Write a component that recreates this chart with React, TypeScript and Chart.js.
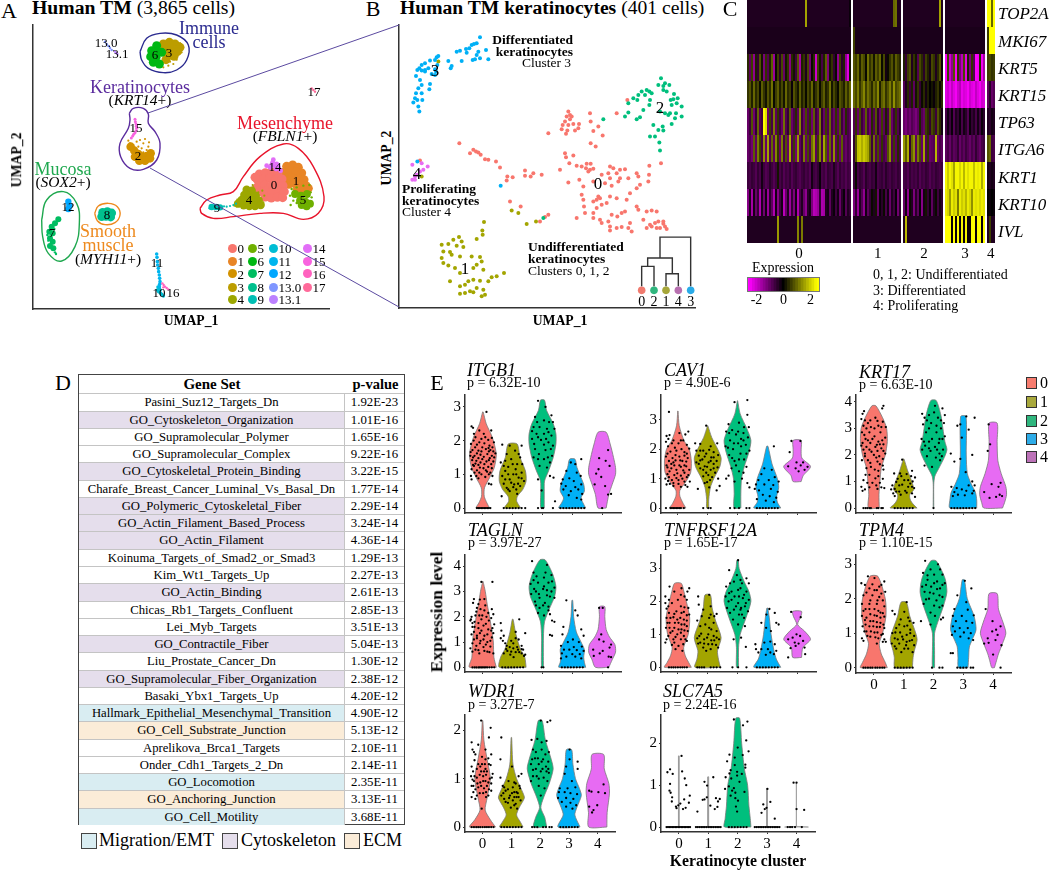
import React, { useEffect, useRef } from "react";
import { Chart, registerables } from "chart.js";

Chart.register(...registerables);

const SERIF = "'Liberation Serif', serif";
const AXIS = "#333333";

/* ---------- panel A: UMAP values (arbitrary UMAP units), flat x,y lists ---------- */
const A_C0 = [778,405,796,409,815,411,834,408,772,388,790,390,809,392,828,389,846,390,775,370,794,372,812,369,831,371,849,370,780,352,799,354,817,351,836,353,853,352,796,336,814,333,832,335,848,334,765,395,768,362];
const A_C1 = [860,428,878,432,895,425,852,410,870,413,888,411,905,408,858,392,876,394,894,392,912,388,866,374,884,376,902,372,918,370,892,358,910,356,925,362];
const A_C2 = [392,487,403,475,415,465,405,457,425,457,440,459,452,467,418,445,435,445,450,452];
const A_C2F = [420,507,430,497,445,487,410,502,425,482,440,477,415,487,400,492,390,497,385,505,435,510,405,480,430,470,447,500];
const A_C3 = [490,795,508,800,525,795,540,785,497,778,515,780,532,772,505,760,522,758,498,748];
const A_C3F = [510,742,520,735,490,725,505,730,530,748,545,770,540,798,488,735];
const A_C4 = [740,358,755,355,733,342,750,340,767,340,725,327,742,325,759,324,776,326,714,316,731,311,748,309,765,309,782,312];
const A_C4F = [708,318,712,328,760,365,775,350,758,372,790,320,793,340,787,355,703,310];
const A_C5 = [885,345,903,340,921,345,900,325,916,322,930,316,905,312,920,308];
const A_C5F = [875,360,890,365,910,370,928,372,870,340,880,325,890,318,872,312,935,335,880,352,896,332,932,350];
const A_C6 = [470,790,455,775,470,772,485,770,452,757,468,755,460,740,478,735];
const A_C7 = [175,269,165,257,155,247,148,232,158,227,150,212,158,202,150,189,160,182];
const A_C7F = [178,272,150,238,142,222,145,205,165,170,168,165,152,195,163,240];
const A_C8 = [308,290,322,292,335,288,305,277,318,278,332,276];
const A_C9 = [635,306,648,306,660,305];
const A_C9F = [672,308,680,307,690,309,628,302,665,300,700,312,708,316];
const A_C10 = [472,57,476,52,482,47,486,43,490,39,478,62,474,66,480,56];
const A_C11 = [470,165,471,155,472,142,473,132,475,122,476,112,478,102,479,92,480,82,479,74,478,67];
const A_C12 = [205,322,208,310,205,300];
const A_C130 = [315,802,320,795,325,789,330,783,335,777];
const A_C131 = [345,772,349,768,352,765];
const A_C14 = [818,440,825,428,810,425,835,425,820,448,815,432,830,435,800,430,842,415,828,420];
const A_C15 = [405,569,406,562,408,555,409,548,410,542,408,535,405,529,401,524,398,519,394,513];
const A_C16 = [487,77,491,72,495,67,500,63,505,59,490,65];
const A_C17 = [935,662,940,657,945,652];

/* annotation outlines in panel A (same UMAP units) */
const A_RING_IMMUNE = [420,772,440,812,480,827,530,822,565,792,560,747,530,717,490,709,445,722,425,747,420,772];
const A_RING_KERAT = [388,587,400,602,430,602,445,585,445,557,465,532,480,497,470,447,430,419,390,422,362,457,360,497,385,542,390,567,388,587];
const A_RING_MESEN = [600,302,620,327,660,342,700,352,730,397,780,457,850,495,895,482,940,427,972,337,955,287,910,269,850,287,780,287,700,277,640,272,605,287,600,302];
const A_RING_MUCOSA = [125,267,140,327,190,352,230,317,238,257,225,187,185,144,145,167,128,217,125,267];
const A_RING_SMOOTH = [284,287,295,309,325,317,352,307,360,282,345,259,315,253,292,265,284,287];

const A_CLUSTER_COLORS = ["#F8766D","#E88526","#D39200","#BC9D00","#9CA700","#6FB000","#00B813","#00BD61","#00C08E","#00BFB4","#00BDD4","#00B5EE","#00A7FF","#7F96FF","#BC81FF","#E26EF7","#F863DF","#FF62BF","#FF6A9A"];
const A_LEGEND_LABELS = ["0","1","2","3","4","5","6","7","8","9","10","11","12","13.0","13.1","14","15","16","17"];

/* ---------- panel B: UMAP values, flat x,y lists ---------- */
const B_C0 = [565,590,570,580,575,575,560,575,570,567,555,560,548,550,545,537,565,550,580,553,597,553,595,540,585,533,562,533,558,523,505,525,630,585,632,560,655,545,640,532,668,518,632,495,647,485,710,585,742,625,238,495,280,475,288,470,270,465,295,467,302,460,315,447,325,445,348,440,360,422,382,395,398,393,380,383,435,413,435,397,460,405,452,395,485,400,540,415,390,320,422,305,505,280,495,273,480,260,555,465,580,458,558,453,568,435,590,427,605,425,620,433,632,433,618,420,630,415,640,418,625,410,598,385,565,377,690,425,700,420,720,415,735,417,710,405,685,405,690,390,665,400,640,380,720,390,745,390,770,405,775,395,808,427,843,435,807,400,805,380,780,370,770,360,750,345,740,325,715,380,695,367,675,375,610,365,605,340,655,335,650,325,640,320,660,330,610,325,690,335,710,330,680,315,665,310,612,305,615,285,650,300,640,285,590,270,640,270,660,265,665,255,685,260,690,245,690,233,710,240,725,243,750,255,745,240,755,230,735,290,725,285,712,275,695,280,770,305,775,295,800,290,815,293,830,290,790,265,800,240,810,250,825,255,835,260,850,260,815,245,830,240,840,240,855,245,860,237,850,253,120,443];
const B_C1 = [312,258,307,233,308,220,290,207,237,213,220,205,245,200,185,190,205,192,230,187,250,183,190,170,210,168,215,160,240,155,275,155,300,153,305,140,185,150,190,135,205,128,225,120,240,105,290,130,280,120,310,115,335,92,350,95,372,105,210,80,240,65,255,70,265,80,280,85,300,82,325,80,290,60,270,50,255,45,240,43,280,47,310,55,315,40,305,35,395,293,415,285,440,252,468,260,175,740,125,395];
const B_C2 = [843,690,855,675,868,670,850,667,835,670,850,655,860,650,800,655,785,650,775,640,795,640,808,650,815,645,760,630,772,625,745,615,810,625,808,610,882,643,893,630,880,627,872,625,890,615,875,610,905,605,870,585,888,585,905,575,885,570,865,580,855,585,840,590,790,595,745,587,735,575,780,573,770,567,820,550,848,545,835,535,850,533,875,553,810,515,825,515,838,497,840,473,670,567,490,270];
const B_C3 = [300,813,290,795,282,793,275,790,268,780,258,778,240,773,230,770,295,770,318,775,290,760,300,750,285,747,278,745,325,747,260,767,245,742,205,742,215,727,212,720,175,757,170,753,165,745,150,743,135,735,125,730,118,720,112,715,125,713,135,715,145,720,165,717,172,730,168,710,155,703,135,710,108,697,120,685,125,670,115,660,108,645,125,645,148,657,150,673,105,630,112,625,100,617,127,625,115,605,118,590,165,700,112,440,362,367];
const B_C4 = [97,430,125,435,143,425,130,415,120,410,110,400,105,395,97,385,105,385];
const B_COLORS = ["#F8766D","#A3A500","#00BF7D","#00B0F6","#E76BF3"];

const DENDRO_LEFT = [785,65,785,125,822,125,822,65];
const DENDRO_MID = [858,65,858,103,895,103,895,65];
const DENDRO_JOIN = [803,125,803,150,877,150,877,103];
const DENDRO_ROOT = [840,150,840,213,932,213,932,65];
const DENDRO_LEAVES = [785,53,822,53,858,53,895,53,932,53];
const DENDRO_LEAF_LABELS = ["0","2","1","4","3"];
const DENDRO_LEAF_COLORS = ["#F07A6E","#2FB67E","#A7A73A","#B870B0","#2AABE8"];

/* ---------- panel C: scaled expression, one list per cluster ---------- */
const GENES = ["TOP2A","MKI67","KRT5","KRT15","TP63","ITGA6","KRT1","KRT10","IVL"];
const CLUSTER_NAMES = ["0","1","2","3","4"];
const TOP2A = [
 [-.3,-.3,-.3,-.3,-.3,-.3,-.3,-.3,-.3,-.3,-.3,-.3,-.3,-.3,-.3,-.3,-.3,-.3,-.3,-.3,-.3,-.3,-.3,-.3,-.3,-.3,-.3,-.3,-.3,1.6,-.3,-.3,-.3,-.3,-.3,-.3,-.3,-.3,-.3,-.3,-.3,-.3,-.3,-.3,-.3,-.3,-.3,-.3,-.3,-.3,-.3,-.1],
 [-.3,-.3,-.3,-.3,-.3,-.3,-.3,-.3,-.3,-.3,-.3,-.3,-.3,-.3,-.3,-.3,-.3,-.3,-.3,-.3,1,1.1,-.3,-.3],
 [-.3,-.3,-.3,-.3,-.3,-.3,-.3,-.3,-.3,-.3,-.3,-.3,-.3,-.3,-.3,-.3,-.3,-.3,1.6,-.3],
 [-.3,-.3,-.3,-.3,-.3,-.3,-.3,-.3,-.3,-.3,-.3,-.3,-.3,-.3,-.3,-.3,-.3,-.3,-.3,-.3],
 [2.5,2.5,1,2.5]];
const MKI67 = [
 [-.25,-.25,-.25,-.25,-.25,-.25,-.25,-.25,-.25,-.25,-.25,-.25,-.25,-.25,-.25,-.25,-.25,-.25,-.25,-.25,-.25,-.25,-.25,-.25,-.25,-.25,-.25,-.25,-.25,-.25,-.25,-.25,-.25,-.25,-.25,-.25,-.25,-.25,-.25,-.25,-.25,-.25,-.25,-.25,-.25,-.25,-.25,-.25,-.25,-.25,-.25,-.25],
 [.6,-.25,-.25,-.25,-.25,-.25,-.25,-.25,-.25,-.25,-.25,-.25,-.25,-.25,-.25,-.25,-.25,-.25,-.25,-.25,-.25,-.25,-.25,-.25],
 [-.25,-.25,-.25,-.25,-.25,-.25,-.25,-.25,-.25,-.25,-.25,-.25,-.25,-.25,-.25,-.25,-.25,-.25,-.25,-.25],
 [-.25,-.25,-.25,-.25,-.25,-.25,-.25,-.25,-.25,-.25,-.25,-.25,-.25,-.25,-.25,-.25,-.25,-.25,-.25,-.25],
 [.6,2.5,2.5,2.5]];
const KRT5 = [
 [.4,-.9,.6,-1.4,.3,-.5,.8,.2,-1.2,.5,-.8,.3,.9,-1.5,.1,.6,-.4,.7,-1,.2,.5,-1.3,.4,.2,-.6,.8,-1.6,.3,.5,-.3,.7,-1.1,.1,.4,-2,.6,.2,-.7,.3,.9,-1.2,.2,.5,-.5,.1,-1.4,.6,-.4,.3,-1.4,-2.2,.2],
 [.8,.6,1,.3,.9,.7,.1,1.1,.5,.8,.2,.9,.6,1,.1,.7,-.2,.1,.5,.8,.3,.9,.6,.4],
 [.3,-.5,.6,.8,-.3,.5,.2,-.8,.7,.4,-.4,.6,.3,-.2,.7,.5,-.3,.4,.8,-.1],
 [-2.4,.6,-2,-1.4,.8,-2.4,.5,-1.2,-1.8,.7,-2.2,.3,-1.2,.5,-.8,-2.5,-2.4,.4,-2.4,-1.6],
 [.6,.7,.5,.6]];
const KRT15 = [
 [.5,.8,.3,1,.4,.7,.1,.9,.5,.2,.8,.4,1.1,.1,.6,.9,.3,.7,.2,1,.4,.6,-.1,.8,.5,.2,.9,.3,.6,.1,.7,.4,1,.2,.5,.8,.1,.6,.9,.3,.5,1.1,.2,.7,.4,.1,.8,.6,.3,.9,.5,1],
 [1,.7,1.2,.5,.9,1.3,.6,1.1,.8,.4,1,.7,1.3,.3,.9,1.1,.5,.8,1.2,.6,1.4,.7,.9,1.1],
 [-.8,-.3,.4,-.6,.3,-.9,.2,.5,-.5,.1,.4,-.2,.3,0,.2,-.1,.3,.5,.1,.4],
 [-2.2,-2,-2.3,-1.9,-2.2,-2.4,-2,-1.8,-2.3,-2.1,-2.2,-2.4,-2,-2.2,-2.3,-1.9,-2.2,-2.4,-2,-2.1],
 [-.9,-.4,-1,-.8]];
const TP63 = [
 [-1,-.6,.8,-1.1,-.5,1,-.8,-.6,2.5,2.2,-1,.6,-.7,1.2,-.9,.5,-.6,-1,1.1,-.8,-.5,.9,-1,-.7,.4,-.9,1.3,-.6,-1,.7,-.8,.5,-1.1,.9,-.6,-.9,1.2,-.5,-1,.6,-.8,1,-.7,-1,.5,-.9,.8,-.6,-1,.4,-.7,-.9],
 [-.8,.5,-1,.7,-.6,-.9,.9,-.7,-1.1,.4,-.8,.8,-.5,-1,.6,-.9,.3,-.7,1,-1,-.6,.5,-.8,-.4],
 [-1,-1.2,-.9,-1.1,-.8,-1,-1.2,-.9,.3,-.8,-1,.6,.4,-.5,.7,.5,-.6,.8,.4,-.2],
 [-.7,-.2,-.6,-.1,-.8,-.3,-.5,-.1,-.7,-.2,-.4,-.8,-.1,-.5,-.3,-.7,-.2,-.6,-.1,-.4],
 [-.3,-.4,-.2,-.3]];
const ITGA6 = [
 [-1,-.8,-1.1,.9,-.9,1.2,.6,-.7,1.4,-1,1.6,-.8,1,-.9,1.3,.5,-1,1.2,-.7,.8,-1,1.7,-.8,.6,-1.1,1.5,-.9,-.6,1.2,-1,.7,-.8,1.1,1.5,-.9,.6,1.3,-.7,1.6,.8,-1,1,-.8,1.4,-.9,.5,-1,.9,-.8,-1,-.7,-.9],
 [-.5,.8,1.9,2,1.7,2,1.8,1.6,.9,-.6,1.1,-.8,.7,-.9,.5,-.7,-.9,.8,1.4,-.8,.6,-.9,.4,-.7],
 [1.5,.9,1.7,-.5,1,1.4,-.9,1.2,.7,-1,1.6,-.8,.5,-1,-.9,-.8,1.8,-1,-.7,-.9],
 [-.9,-.7,-1,-.6,-.9,-.8,-.5,-1,-.7,-.9,-.6,-.8,-1,-.7,-.9,-.5,-.8,-1,-.7,-.6],
 [.8,1,-.6,-.7]];
const KRT1 = [
 [-.6,-.7,-.5,-.6,-.8,-.5,-.7,-.2,-.6,-.8,-.7,-.4,-.6,-.8,-.6,.2,-.7,-.5,-.8,-.6,-.7,-.5,-.8,-.6,-.5,-.7,-.8,-.6,-.5,-.7,-.6,-.8,-.2,-.6,-.7,-.5,-.1,-.7,-.6,-.8,-.5,-.6,-.7,-.3,-.6,-.8,-.5,-.7,-.6,-.8,-.6,-.7],
 [-.6,.1,-.7,-.5,-.6,-.8,-.4,-.6,-.7,-.5,-.6,-.2,-.7,-.6,-.5,-.7,-.4,-.6,-.7,-.5,-.6,-.7,-.5,-.6],
 [-.7,-.6,-.8,-.5,-.7,-.6,-.7,-.5,-.8,-.6,-.7,-.5,-.6,-.8,-.6,-.7,-.5,-.6,-.7,-.6],
 [2.4,2,2.4,2.2,1.6,2.4,2.4,2.1,2.4,1.8,2.4,2.2,2.4,2.4,1.9,2.4,2.3,2.4,1.7,2.4],
 [-.2,-.3,-.2,-.3]];
const KRT10 = [
 [-1.3,-.3,-1.6,-.2,-1,-.5,-1.7,-.3,-1.1,-.2,-1.5,-.4,-.9,-1.7,-.2,-1.3,-.6,-.2,-1.8,-1,-.3,-1.5,-.5,-1.2,-.2,-1.7,-.7,-.3,-1,-1.4,-.4,-.2,-1.2,-1.8,-1.7,-1.5,-.5,-1.7,-1.6,-.3,-.2,-.9,-.3,-.1,-.6,-.2,-1,-.4,-.1,-.8,-.3,-.5],
 [-1.2,-.5,-1.5,-.3,-.8,-1.4,-.2,-.9,-.5,.1,-.3,.2,-1,-.1,-.4,.1,-.7,-.2,-1,-.3,-.6,-.1,-1.1,-.4],
 [-1,-.2,-1.4,.1,-.3,-1.2,-.4,-.9,-.1,-1.3,-.2,.2,-.5,-.1,-.9,-.3,.1,-.6,-.2,-.4],
 [2.3,2.1,1.5,2.3,2,2.2,1.2,2.3,2,2.2,1.8,2.3,2.1,1.4,2.3,2.2,2.3,2.1,2.3,2.2],
 [0,-.1,0,-.1]];
const IVL = [
 [-.3,-.3,-.3,-.3,-.3,-.3,-.3,-.3,-.3,-.3,-.3,-.3,-.3,-.3,-.3,1.5,-.3,-.3,-.3,-.3,-.3,-.3,-.3,-.3,-.3,1.3,-.3,1.2,-.3,-.3,-.3,-.3,-.3,-.3,-.3,-.3,-.3,-.3,-.3,-.3,-.3,-.3,-.3,-.3,-.3,-.3,-.3,-.3,-.3,-.3,-.3,-.3],
 [-.3,-.3,-.3,-.3,-.3,-.3,-.3,-.3,-.3,-.3,-.3,-.3,-.3,-.3,-.3,-.3,-.3,-.3,-.3,-.3,-.3,-.3,-.3,-.3],
 [-.3,1.8,-.3,-.3,-.3,-.3,-.3,-.3,-.3,-.3,-.3,-.3,-.3,-.3,-.3,-.3,-.3,-.3,-.3,-.3],
 [2.5,2.5,2.5,-.1,2.5,-.1,2.5,-.1,2.4,-.1,2.4,-.1,-.1,2.5,2.5,-.1,2.5,2.5,-.1,2.5],
 [-.3,.6,-.3,-.3]];
const HEAT_ROWS = [TOP2A,MKI67,KRT5,KRT15,TP63,ITGA6,KRT1,KRT10,IVL];
const COLORBAR_STOPS = [-2.6,-2.4,-2.2,-2,-1.8,-1.6,-1.4,-1.2,-1,-.8,-.6,-.4,-.2,0,.2,.4,.6,.8,1,1.2,1.4,1.6,1.8,2,2.2,2.4,2.6];
const COLORBAR_TICKS = [-2,0,2];

/* ---------- panel D ---------- */
const GENE_SETS = ["Pasini_Suz12_Targets_Dn","GO_Cytoskeleton_Organization","GO_Supramolecular_Polymer","GO_Supramolecular_Complex","GO_Cytoskeletal_Protein_Binding","Charafe_Breast_Cancer_Luminal_Vs_Basal_Dn","GO_Polymeric_Cytoskeletal_Fiber","GO_Actin_Filament_Based_Process","GO_Actin_Filament","Koinuma_Targets_of_Smad2_or_Smad3","Kim_Wt1_Targets_Up","GO_Actin_Binding","Chicas_Rb1_Targets_Confluent","Lei_Myb_Targets","GO_Contractile_Fiber","Liu_Prostate_Cancer_Dn","GO_Supramolecular_Fiber_Organization","Basaki_Ybx1_Targets_Up","Hallmark_Epithelial_Mesenchymal_Transition","GO_Cell_Substrate_Junction","Aprelikova_Brca1_Targets","Onder_Cdh1_Targets_2_Dn","GO_Locomotion","GO_Anchoring_Junction","GO_Cell_Motility"];
const P_VALUES = ["1.92E-23","1.01E-16","1.65E-16","9.22E-16","3.22E-15","1.77E-14","2.29E-14","3.24E-14","4.36E-14","1.29E-13","2.27E-13","2.61E-13","2.85E-13","3.51E-13","5.04E-13","1.30E-12","2.38E-12","4.20E-12","4.90E-12","5.13E-12","2.10E-11","2.14E-11","2.35E-11","3.13E-11","3.68E-11"];
const SET_GROUP = ["","c","","","c","","c","c","c","","","c","","","c","","c","","m","e","","","m","e","m"];
const GROUP_FILL = { "": "#ffffff", c: "#E5DEEC", m: "#D9EDF2", e: "#FBECD8" };

/* ---------- panel E: violin profiles (expression, relative density) ---------- */
const VIOLIN_COLORS = ["#F8766D","#A3A500","#00BF7D","#00B0F6","#E76BF3"];
const LEGEND_SWATCHES = ["#F77C6F","#A8A83C","#2FB67E","#2EACE8","#BC72B8"];
const X_TICKS = [0,1,2,3,4];

const ITGB1_PROFILE = [[0,.5,.15,.3,.35,.1,.6,.12,.9,.5,1.2,.85,1.6,1,2.1,.7,2.5,.25,2.85,.02],[0,.6,.2,.3,.35,.35,.55,.75,.8,1,1.1,.95,1.5,.55,1.9,.33],[0,.13,.5,.13,.8,.15,1.1,.45,1.5,.8,1.9,1,2.2,1,2.5,.8,2.9,.3,3.2,.15],[0,1,.15,.8,.3,.65,.5,.9,.7,.85,.9,.65,1.2,.35,1.45,.2],[0,.3,.4,.5,.7,.75,1,1,1.2,1,1.5,.85,1.9,.6,2.25,.3]];
const ITGB1_DOTS = [
 [-.38,2.42,-.33,2.38,-.3,2.2,-.12,2.3,.03,2.2,.28,2.3,.12,2.85,-.25,2.1,-.05,2.05,.18,2.02,.37,1.95,.3,2.08,-.4,1.9,-.2,1.88,.05,1.92,.22,1.85,-.35,1.72,-.15,1.7,.1,1.75,.35,1.68,.25,1.72,.42,1.62,-.42,1.55,-.28,1.55,-.08,1.58,.15,1.6,.3,1.55,-.36,1.42,-.22,1.4,-.02,1.45,.2,1.42,.35,1.38,-.3,1.25,-.15,1.28,.05,1.3,.18,1.22,-.38,1.15,-.2,1.12,.1,1.12,.25,1.05,-.05,1,.32,.95,-.4,.95,-.38,.85,.28,.7,.2,.72,-.15,.88,-.31,2,-.12,1.95,.08,2.1,-.26,1.8,-.02,1.8,.19,1.78,.32,1.8,-.41,1.66,-.2,1.62,-.05,1.68,.2,1.68,-.33,1.5,-.15,1.48,.03,1.52,.23,1.48,.38,1.5,-.25,1.32,-.08,1.35,.12,1.38,.28,1.3,-.33,1.28,-.1,1.2,.02,1.18,.14,1.08,-.28,1.05,-.12,1.05,.2,1,.08,.92,-.22,.95,.3,1.18],
 [-.35,1.88,-.1,1.85,.3,1.85,.08,1.7,-.2,1.6,.25,1.5,-.05,1.45,-.4,1.35,.15,1.3,-.15,1.22,.1,1.15,-.25,1.1,.3,1.05,.02,1,-.35,.95,.2,.9,-.1,.85,.38,.8,-.3,.72,.05,.7,.25,.65,-.2,.6,.12,.55,-.1,.5,-.37,.35,.15,.42,-.25,1.4,.2,1.6,-.3,1.25,0,1.3,.32,1.3,-.15,1,.12,1,-.05,.75,.3,.88,-.25,.85,.18,.72,.02,.62,-.15,.55],
 [-.15,3.18,.1,3,.3,2.75,-.25,2.7,.35,2.55,-.3,2.4,-.1,2.4,.15,2.35,.4,2.35,-.2,2.2,.05,2.2,.3,2.15,-.35,2.05,-.05,2.02,.2,1.95,.35,1.85,-.25,1.75,.1,1.72,-.12,1.6,.32,1.55,-.3,1.5,.05,1.45,.25,1.35,-.1,1.25,.15,1.2,-.15,.85,.25,.95,.37,.9,-.03,.52,.42,.2,-.18,2.55,.05,2.6,.22,2.55,-.35,2.28,.2,2.25,-.15,2.1,.12,2.05,-.28,1.9,.05,1.88,.28,1.75,-.15,1.45,.18,1.5],
 [.3,1.45,-.05,1.35,.1,1.3,-.2,1.1,.15,1.05,-.32,.85,.28,.95,-.1,.88,.05,.8,-.37,.72,.3,.7,-.22,.65,.1,.62,-.3,.55,.2,.55,-.05,.5,.33,.42,-.12,.38,.15,.3,.3,.25],
 [.2,1.72,-.1,1.48,.25,1.25,.12,1.4,-.12,1.15,-.2,1.02,-.03,.92,.1,.65,.3,.42,-.25,.7,.2,.4]];
const ITGB1_ZEROS = [[-.2,-.15,-.1,-.05,0,.05,.1,.15,.2,.25],[-.3,-.2,-.1,0,.1,.2,.3,.42],[-.15,-.02,.02,.35],[-.4,-.3,-.2,-.1,0,.1,.2,.3,.4],[0]];

const CAV1_PROFILE = [[0,.6,.15,.4,.4,.15,.6,.15,.9,.6,1.2,.95,1.6,1,2,.85,2.3,.45,2.8,.1,3.3,.01],[0,.08,.3,.08,.7,.2,1,.45,1.4,.9,1.7,1,2,.75,2.4,.3,2.8,.01],[0,.25,.5,.25,1,.3,1.4,.5,1.9,.85,2.3,1,2.7,.7,3.2,.2,3.65,.01],[0,1,.2,.75,.4,.7,.7,.85,1,.75,1.5,.35,2.1,.05],[.9,.3,1.1,.45,1.41,1,1.7,.35,2,.3,2.3,.3]];
const CAV1_DOTS = [
 [-.3,3.27,-.38,2.45,-.32,2.35,-.28,2.48,-.4,2.25,.05,2.55,.35,2.6,.25,2.5,.18,2.3,-.15,2.3,.02,2.2,.3,2.15,-.33,2.1,-.1,2.05,.12,2,.38,2.02,-.25,1.92,.22,1.9,-.4,1.75,-.08,1.8,.05,1.75,.33,1.7,-.3,1.6,-.15,1.55,.15,1.6,-.38,1.45,.05,1.45,.28,1.42,-.22,1.35,-.05,1.3,.18,1.28,.38,1.3,-.35,1.15,-.12,1.12,.1,1.1,.3,1.05,-.42,1,-.2,.95,.02,.95,.22,.9,.4,.9,-.38,.8,-.15,.75,.32,.72,.1,.72,-.27,.82,-.2,2.2,.1,2.3,-.05,1.95,-.35,1.85,.22,1.78,.3,1.85,-.18,1.7,.08,1.62,.28,1.58,-.35,1.38,-.12,1.45,.22,1.45,-.28,1.25,-.02,1.18,.22,1.2,-.3,1.05,-.05,1.02,.15,1,-.15,.85,.02,.82,.25,.78,-.33,.92,.35,1.12,-.22,1.5,.1,1.4,-.08,1.62],
 [-.42,2.2,-.05,2.8,.32,2.2,-.25,2.18,.1,2.1,-.38,1.95,-.15,1.95,.2,1.9,-.05,1.85,.35,1.8,-.3,1.78,.12,1.72,-.18,1.65,.3,1.6,-.38,1.55,.03,1.55,.2,1.5,-.1,1.42,.33,1.38,-.25,1.35,.1,1.3,-.05,1.2,.25,1.2,-.15,1.08,.35,1,.08,.95,-.1,.85,.4,.75,-.33,.65,.3,.6,.05,.7,-.25,1.95,.05,1.98,.2,1.72,-.1,1.75,-.25,1.62,.1,1.6,-.02,1.4,.2,1.35,-.15,1.3,.02,1.12,-.3,1.5,.15,1.05,-.02,.88],
 [-.1,3.6,.33,3.67,.33,3.17,-.3,2.85,.05,2.9,.38,2.75,-.38,2.6,-.18,2.65,.2,2.55,-.05,2.5,.35,2.4,-.25,2.3,.12,2.35,-.4,2.1,.02,2.2,.28,2.15,-.15,2,.4,1.95,.1,1.85,-.28,1.8,.22,1.65,-.1,1.6,.3,1.4,-.2,1.35,.05,1.25,.15,1,-.3,1.1,-.38,1,.33,.85,-.1,.9,.4,.7,-.28,2.55,.02,2.6,.22,2.75,-.12,2.2,.2,2.3,-.32,2.05,.12,2.1,.3,1.85,-.18,1.7,.05,1.65,-.05,1.45,.2,1.2],
 [.22,2.1,-.1,1.35,.15,1.3,-.2,1.15,.25,1.05,-.3,.95,.05,.95,.38,.9,-.38,.8,-.1,.8,.2,.78,-.42,.65,.12,.65,-.28,.6,.35,.55,-.15,.45,.08,.4,.3,.35,-.35,.3,-.05,.25,.22,.2],
 [-.19,2.28,.11,2.28,-.25,1.9,-.3,1.42,-.05,1.35,.12,1.45,.2,1.55,.35,1.4,.25,1.3,.05,1.25,-.02,1.55]];
const CAV1_ZEROS = [[-.4,-.25,-.2,-.15,-.1,-.05,0,.05,.1,.2],[-.15,.02,.1],[-.25,-.1,.05,.3,.4],[-.35,-.25,-.15,-.05,.05,.15,.25,.35],[]];

const KRT17_PROFILE = [[0,.4,.5,.38,1,.45,1.5,.55,2,.85,2.5,1,3,.95,3.4,.65,3.85,.15],[0,1,.15,.7,.3,.5,.5,.45,.7,.75,1,.6,1.4,.3,1.85,.02],[0,.02,.9,.02,1.2,.1,1.5,.4,1.9,.8,2.2,1,2.5,.85,3,.7,3.5,.55,4.05,.2],[0,1,.3,1,.6,.9,.9,.6,1.3,.3,2,.22,3.45,.2],[0,.7,.2,.85,.5,1,.8,.95,1.3,.6,1.8,.35,2.5,.3,3.2,.3]];
const KRT17_DOTS = [
 [-.38,3.55,-.33,3.65,.28,3.75,.32,3.85,-.42,3.35,-.2,3.2,.05,3.4,.3,3.25,-.35,3.1,-.1,3.05,.15,3.1,.4,3.05,-.4,2.85,-.15,2.85,.22,2.85,-.28,2.6,.02,2.7,.38,2.65,-.38,2.45,-.12,2.45,.15,2.5,.32,2.4,-.25,2.3,.05,2.3,.25,2.25,-.35,2.2,-.08,2.12,.12,2.15,.38,2.05,-.3,1.95,.08,1.9,.3,1.85,-.4,1.8,-.12,1.7,.2,1.65,-.25,1.5,.03,1.45,.32,1.45,-.15,1.25,.15,1.2,.3,1.1,-.35,1.05,-.05,.95,.2,.95,-.42,.8,-.3,.7,.12,.72,-.38,.65,.35,.75,-.3,3.3,-.12,3.3,.12,3.28,.25,3.05,-.25,3,.02,3,-.32,2.75,-.05,2.6,.28,2.55,-.2,2.55,.1,2.38,-.42,2.35,.2,2.4,-.15,2.2,.32,2.15,-.3,2.05,0,2,.18,1.95,-.2,1.8,.12,1.75,.3,1.6,-.1,1.55,.15,1.4,-.28,1.25,.05,1.12,-.22,.95,.08,.85,.25,.78,-.15,.78],
 [-.05,1.82,.28,1.4,-.32,1.3,-.12,1.3,.1,1.28,.25,1.2,.38,1.15,-.2,1.1,.02,1.05,.3,1,-.38,.85,-.15,.85,.15,.8,.35,.75,-.42,.7,-.25,.62,.05,.65,.28,.55,-.35,.55,-.1,.5,.38,.42,-.3,.45,-.08,1.2,.15,1.05,-.25,.98,.22,.92,-.05,.88,.28,.8,-.3,.72,.1,.58,-.15,.62],
 [-.38,3.55,-.3,3.4,.05,3.85,.3,3.75,.38,3.5,-.15,3.5,.15,3.4,.35,3.2,-.35,3.15,-.08,3.2,.25,3,-.25,2.85,.1,2.85,.38,2.7,-.4,2.6,-.15,2.5,.18,2.45,-.28,2.35,.05,2.3,.32,2.2,-.38,2.2,-.1,2.15,.2,2.05,-.22,1.95,.08,1.9,-.3,1.6,.22,1.8,-.05,1.55,.02,3.6,.25,3.3,-.22,3.3,.1,3.1,-.15,3,.3,2.6,-.05,2.6,.2,2.6,-.32,2.5,.12,2.2,-.15,2.25,.28,1.95],
 [.1,3.45,.38,3.4,-.1,3.15,-.2,3.1,.18,2.95,-.05,2.65,.3,2,-.42,2.05,-.3,1.75,-.1,1.85,.08,1.35,-.4,.8,.3,1,.38,.85,-.22,.75,.18,.85,.35,.65,-.3,.6,-.05,.7,.1,.65,.3,.55,-.18,.5,.05,.48,-.35,.45],
 [-.15,3.15,-.1,2.4,-.18,2.15,-.05,.9,.25,.95,.18,.8,-.3,.6,.3,.45,-.12,.38,.1,.42,.22,.5]];
const KRT17_ZEROS = [[-.35,-.28,-.22,-.15,-.1,.1,.15,.25,.3],[-.3,-.2,-.1,0,.1,.2,.3],[0],[-.4,-.3,-.2,-.1,0,.1,.2,.3,.4],[]];

const TAGLN_PROFILE = [[0,1,.4,.82,1,.78,1.5,.65,2,.5,2.5,.32,3,.18,3.4,.01],[0,1,.4,.9,.7,.6,1,.4,1.4,.2,1.9,.03],[0,.07,1.2,.07,1.8,.15,2.3,.5,2.8,.9,3.2,1,3.7,.75,4.25,.2],[0,1,.2,.9,.4,.85,.7,.9,1,.65,1.4,.3,2,.1,2.65,.03],[0,.5,.3,.75,.6,1,.9,.95,1.2,.55,1.5,.3,2,.2,2.4,.2]];
const TAGLN_DOTS = [
 [-.05,3.38,.32,3.38,-.3,2.7,-.1,2.68,.05,2.7,-.33,2.55,-.25,2.05,-.38,2,-.42,1.85,-.35,1.75,-.2,2.35,.05,2.25,.3,2.3,.35,2.1,-.12,2.05,.12,2,-.28,1.8,-.05,1.9,.2,1.85,.38,1.7,-.35,1.6,-.15,1.55,.02,1.65,.28,1.45,-.3,1.4,-.1,1.35,.15,1.3,.35,1.35,-.2,1.15,.02,1.1,.25,1.05,-.35,.95,-.1,.95,.1,.9,-.42,.75,-.25,.7,.05,.65,.22,.6,.35,.55,-.12,.55,-.15,2.5,.08,2.45,-.22,2.2,-.08,2.3,.18,2.15,-.4,1.9,-.02,2.05,.28,1.95,-.15,1.75,.1,1.72,.32,1.55,-.28,1.6,-.05,1.45,.18,1.5,-.38,1.3,-.2,1.25,.05,1.25,.3,1.18,-.3,1.1,-.08,1.05,.15,1,-.22,.85,.02,.8,.25,.82,-.35,.62,-.15,.68,.15,.62],
 [-.4,1.75,.22,1.9,-.38,1.45,.1,1.4,-.4,1.15,-.33,1.05,-.25,.95,.42,1.35,.2,1.1,-.05,1.05,.3,.85,-.1,.8,.02,.75,.18,.7,.35,.7,-.18,.65,.1,.6,.3,.55,-.08,.5,.38,.45,.42,.5,.03,.4,-.3,1.25,.1,1.15,-.2,.85,.02,.95,.3,.72,.15,.8,-.22,.72,-.05,.62,.22,.6,-.3,.55],
 [-.35,4.2,.15,4.05,-.3,3.75,.3,3.65,.05,3.55,-.4,3.3,-.15,3.35,.2,3.35,.4,3.15,-.28,3.1,.02,3.1,.3,3,-.38,2.9,-.12,2.9,.15,2.85,.4,2.75,-.25,2.6,.08,2.55,-.1,2.35,.2,2.4,-.15,2.15,.05,2.05,.25,2.1,.32,1.85,.4,1.8,.25,1.28,.32,1.25,-.2,3.6,.1,3.75,-.3,3.45,.32,3.4,.05,3.2,-.22,3,.15,3.05,.25,2.8,-.1,2.75,.02,2.45,-.22,2.45,.2,2.25],
 [-.2,2.65,.1,2.25,.18,2.05,.3,1.5,-.3,1.6,-.33,1.3,.38,1.25,.02,1.1,-.15,1,.22,1,-.38,.85,.05,.8,.32,.82,-.28,.7,-.1,.7,.15,.68,.38,.65,-.35,.55,0,.52,.25,.52,-.2,.42,.1,.42,-.38,.35,.3,.35],
 [-.1,2.35,.02,2.35,-.03,1.3,-.1,1.1,.05,1.02,.3,.9,.25,.78,-.3,.7,-.08,.55,.02,.65,.22,.42,.3,.4,-.28,.45]];
const TAGLN_ZEROS = [[-.35,-.28,-.22,-.15,-.1,-.05,0,.05,.1,.15,.22,.3,.38],[-.35,-.25,-.15,-.05,.05,.15,.25,.35],[-.03,.03],[-.35,-.25,-.15,-.05,.05,.15,.25,.35],[.2]];

const TNF_PROFILE = [[0,1,.15,.8,.35,.55,.6,.43,1,.77,1.5,.88,2,.63,2.3,.45,2.55,.25],[0,.95,.25,.8,.5,.73,.9,1,1.4,.6,1.8,.33,2.2,.2],[0,.08,.6,.08,1,.2,1.5,.63,2,1,2.3,.85,2.6,.5,3,.12,3.25,.05],[0,1,.25,.67,.5,.5,1,.28,1.5,.15,1.8,.03],[.3,.33,.6,.43,.85,1,1.1,.55,1.3,.04,1.55,.28,1.7,.33]];
const TNF_DOTS = [
 [-.28,2.45,.12,2.4,.38,2.4,.32,2.3,-.42,2.15,.1,2.2,.3,2.05,-.42,1.95,-.38,1.78,-.2,1.95,.1,1.85,.35,1.8,-.3,1.65,-.05,1.7,.2,1.68,.38,1.6,-.38,1.5,-.15,1.52,.08,1.5,.3,1.42,-.28,1.35,.02,1.35,.22,1.3,-.4,1.2,-.12,1.2,.12,1.15,.33,1.1,-.25,1.05,-.02,1,.2,.95,-.38,.85,-.15,.85,.1,.85,.3,.8,-.42,.75,-.2,.68,.02,.65,-.08,.55,.15,.5,-.12,2.3,.22,2.15,-.3,2.05,0,2.05,-.32,1.85,.22,1.82,-.12,1.62,.12,1.65,.3,1.58,-.25,1.5,-.02,1.45,.2,1.45,-.35,1.35,-.1,1.35,.12,1.3,.3,1.25,-.28,1.2,.02,1.15,.22,1.12,-.18,1.1,.1,1.05,-.32,.95,-.08,.92,.25,.85,-.12,.75,.18,.7],
 [-.32,2.15,.05,2.2,-.3,1.9,.1,1.85,.3,1.62,-.2,1.55,.05,1.5,-.35,1.42,.2,1.35,-.08,1.3,.12,1.15,.3,1.1,-.22,1.02,.02,1,.2,.95,-.35,.88,-.12,.85,.12,.82,.38,.85,-.25,.75,.02,.7,.28,.68,-.15,.6,.1,.55,.35,.6,-.05,.5,-.15,1.75,.1,1.6,.22,1.55,-.25,1.25,.05,1.2,.3,.9,-.28,.95,-.02,.9,.22,.82,-.12,.72,.15,.7,-.32,.72],
 [-.28,2.95,.02,3.25,.3,2.7,-.12,2.6,.1,2.65,.38,2.55,-.38,2.45,-.2,2.3,.1,2.4,.3,2.3,-.4,2.15,-.1,2.15,.18,2.1,.38,2.05,-.3,2,.02,1.95,.25,1.85,-.35,1.8,-.12,1.75,.12,1.8,.35,1.7,-.25,1.65,.05,1.6,.22,1.5,-.15,1.45,.02,1.3,.25,1.25,.12,.9,-.13,.85,.28,.62,-.02,2.8,.15,2.55,-.25,2.55,.02,2.35,.22,2.2,-.28,2.25,.05,2.15,-.2,2.05,.28,1.95,.1,1.75,-.05,1.85,.15,1.6],
 [.07,1.77,.25,1.65,-.03,1.6,.3,1.35,-.2,1.35,.38,1.3,-.04,1.2,.12,1.1,-.4,.7,-.1,.75,.1,.78,.25,.7,-.38,.55,-.2,.55,.02,.55,.3,.5,-.3,.45,.1,.45,-.05,.38,.22,.4],
 [-.2,1.68,.12,1.52,-.02,1,-.15,.9,.1,.95,-.3,.85,.2,.8,-.08,.75,.05,.72,.25,.6,-.22,.58,-.05,.65,.27,.4,-.3,.3]];
const TNF_ZEROS = [[-.3,-.22,-.15,-.08,0,.08,.15,.22,.3],[-.35,-.28,-.2,-.12,.1,.2,.3,.42],[-.17,.02,.3],[-.35,-.25,-.15,-.05,.05,.15,.25,.35],[]];

const TPM4_PROFILE = [[0,1,.15,.85,.4,.55,.7,.4,1,.65,1.5,.9,2,.85,2.65,.3],[0,.65,.3,.7,.5,.8,.8,1,1,.9,1.5,.45,1.9,.2],[0,.08,.5,.08,1,.08,1.3,.3,1.8,.75,2.2,1,2.6,.85,3.1,.2],[0,.35,.3,.4,.6,.45,.8,.65,1.1,.95,1.5,.8,2,.3,2.55,.08],[0,.1,.2,.25,.4,.4,.7,.7,1,.95,1.3,.75,1.7,.4,2.15,.3]];
const TPM4_DOTS = [
 [-.2,2.65,.02,2.6,-.42,2.45,.35,2.5,.25,2.4,-.15,2.3,.1,2.25,.38,2.2,-.35,2.1,-.05,2.1,.18,2.05,.3,1.95,-.4,1.85,-.15,1.85,.1,1.85,.35,1.78,-.28,1.7,.02,1.7,.22,1.6,-.4,1.5,-.12,1.55,.1,1.5,.35,1.48,-.3,1.38,-.02,1.35,.22,1.3,-.38,1.2,-.15,1.2,.1,1.18,.35,1.15,-.25,1.05,.02,1.02,.25,.95,-.4,.85,-.12,.9,.15,.85,-.35,.78,.3,.75,.4,.75,.1,.7,-.3,2.4,-.05,2.42,.18,2.35,-.25,2.18,.02,2.25,.25,2.15,-.12,1.95,.12,1.95,-.35,1.65,-.15,1.7,.15,1.65,.3,1.58,-.25,1.45,.02,1.52,.22,1.45,-.12,1.35,.1,1.32,.32,1.25,-.28,1.25,-.02,1.2,.2,1.18,-.32,1.05,-.1,1.05,.12,1.02,.3,.98,-.22,.92,.05,.88,.35,.82],
 [.1,1.9,-.38,1.65,-.3,1.55,-.1,1.4,.15,1.45,.33,1.3,-.25,1.15,.02,1.2,.22,1.1,-.38,1,-.12,1.02,.1,.95,.35,.92,-.3,.85,-.02,.82,.2,.78,-.4,.7,-.15,.7,.08,.65,.35,.65,-.25,.55,.15,.55,.3,.45,-.08,.45,.02,1.62,.2,1.35,-.15,1.25,.12,1.22,-.28,1.02,.22,1,-.05,.9,.28,.8,-.2,.82,.1,.75,-.3,.62,.02,.55],
 [-.28,3.1,.15,3,-.35,2.75,.02,2.7,.3,2.7,-.2,2.55,.12,2.5,.38,2.45,-.38,2.35,-.08,2.35,.22,2.3,-.3,2.2,0,2.15,.3,2.05,-.15,2,.1,1.95,-.33,1.85,.2,1.75,-.1,1.6,.05,1.5,.25,1.4,-.42,1.35,.32,1.45,-.1,1.25,-.1,2.85,.22,2.85,-.2,2.68,.02,2.45,.3,2.4,-.25,2.4,.12,2.28,-.12,2.18,.2,2.1,-.25,1.98,.02,1.8,.3,1.8],
 [.05,2.52,.27,2.3,-.2,2.1,.1,1.9,-.3,1.7,.15,1.68,-.35,1.5,-.05,1.5,.35,1.52,-.25,1.35,.1,1.35,.3,1.3,-.35,1.2,-.12,1.15,.15,1.15,-.28,1.05,.02,1.02,.25,1,-.38,.95,-.1,.9,.18,.85,-.42,.42,-.35,.42,.33,.8],
 [-.25,1.7,-.02,1.35,.25,1.2,.1,1.1,.15,.95,-.18,.85,.08,.8,-.3,.7,-.15,.72,.28,.65,0,.38,-.03,1.05]];
const TPM4_ZEROS = [[-.35,-.28,-.2,-.12,-.05,.05,.12,.2,.28,.35],[-.3,-.2,-.1,0,.1,.2,.3],[-.05,.2,.3],[-.2,-.1,0,.1,.25,.33],[.25]];

const WDR1_PROFILE = [[0,1,.15,.6,.35,.2,.6,.35,1,.6,1.4,.35,1.8,.1,2.2,.02],[0,.9,.1,.7,.25,.4,.4,.6,.6,1,.7,.9,1,.4,1.3,.12,1.85,.02],[0,.5,.2,.35,.4,.05,.6,.25,.9,.7,1.2,1,1.4,.85,1.8,.4,2.2,.15],[0,.85,.25,.45,.4,.6,.65,.95,.8,.8,1,.5,1.3,.3,1.6,.2],[0,.7,.3,.72,.7,.9,.9,.85,1.2,.5,1.5,.45]];
const WDR1_DOTS = [
 [-.05,2.2,.28,2.05,.22,1.85,-.38,1.75,-.35,1.6,-.3,1.55,.3,1.5,.1,1.6,-.25,1.5,-.02,1.45,.2,1.42,-.38,1.25,-.15,1.3,.08,1.3,.28,1.28,-.33,1.15,-.05,1.15,.15,1.15,.35,1.1,-.4,1.05,-.2,1.02,.02,1.05,.25,1,-.3,.95,-.08,.92,.1,.95,.3,.9,-.38,.85,-.15,.82,.05,.8,.22,.78,-.32,.72,-.1,.7,.12,.72,-.38,.62,.2,.65,-.25,.58,-.03,.38,-.15,1.7,.1,1.4,-.28,1.38,-.02,1.3,.22,1.3,-.2,1.2,.1,1.2,-.1,1.08,.12,1.08,.32,1.02,-.28,1.05,.02,.95,.2,.92,-.35,.98,-.18,.9,-.05,.85,.15,.85,-.25,.78,.02,.7,-.2,.65,.12,.62,.3,.75,-.32,.85,.05,1.15,-.08,1.25],
 [-.35,1.85,-.38,1.4,.02,1.25,-.38,1.02,.35,1.1,.25,1.05,-.1,.95,.15,.9,-.3,.85,.05,.82,.3,.8,-.2,.75,.1,.72,.22,.7,-.35,.65,-.05,.65,.18,.62,-.25,.58,.05,.55,.32,.55,-.12,.5,.15,.48,-.02,.4,.2,.38,-.25,.82,.1,.92,.28,.85,-.12,.78,.02,.7,.18,.72,-.28,.7,-.08,.6,.1,.62,.25,.62,-.2,.52,.1,.45],
 [-.3,1.8,-.1,1.82,.35,2.2,.25,2.17,.02,2.2,.22,1.78,-.25,1.6,.05,1.6,.3,1.55,-.18,1.42,.1,1.4,.28,1.35,-.32,1.3,-.05,1.3,.2,1.25,-.25,1.18,.02,1.15,.3,1.12,-.12,1.05,.12,1.02,-.32,.95,.25,.95,-.05,.85,.15,.8,.02,.65,.05,1.75,-.15,1.55,.18,1.5,-.08,1.42,.05,1.35,-.28,1.4,.22,1.15,-.15,1.2,.08,1.2,-.25,1.05,.28,1.2,-.05,1],
 [.02,1.6,.3,1.35,.02,1.4,-.1,1.25,.3,1.2,-.15,1.1,.1,.95,-.32,.8,-.05,.8,.22,.82,-.35,.72,-.15,.72,.05,.7,.28,.68,-.38,.6,-.1,.6,.15,.58,-.25,.52,.05,.5,.25,.45,-.1,.42,.12,.38],
 [-.3,.75,-.22,.73,.2,.88,.25,.7,-.02,.45,-.3,.42,-.15,.35,-.2,.3,.02,.72]];
const WDR1_ZEROS = [[-.38,-.3,-.22,-.15,-.08,0,.08,.15,.22,.3,.38],[-.35,-.25,-.15,-.05,.05,.15,.25,.35],[-.28,-.2,-.1,.1,.2,.32,.4],[-.3,-.2,-.1,0,.1,.2,.3],[]];

const SLC7A5_PROFILE = [[0,.9,.015,.03,1.7,.03],[0,.9,.015,.03,1.2,.03],[0,1,.2,.95,.5,.85,1,.75,1.4,.5,2,.3,2.6,.15],[0,.9,.015,.03,.92,.03],[0,.9,.015,.03,1.05,.03]];
const SLC7A5_DOTS = [
 [.09,1.7,-.39,1.31,-.3,1.38,-.21,1.27,.11,1.33,.2,1.16,-.3,1.03,.25,1,-.32,.87,-.28,.82,-.23,.71,-.24,.61,.18,.66,.37,.75,.34,.58,.05,.56,-.02,.52,-.1,.49,-.08,.45,.23,.46,.14,.43],
 [.17,1.19,-.13,1.08,-.04,.99,-.37,.37,-.05,.71,-.19,.65,-.13,.66,.26,.69,.39,.67,.33,.61,.07,.51,.31,.48,.22,.43],
 [-.13,2.57,.18,2.43,.33,2.52,.29,2.07,.37,1.81,0,1.9,.17,1.72,-.28,1.73,-.1,1.66,-.36,1.57,.26,1.49,-.1,1.48,-.24,1.36,-.02,1.32,.26,1.42,-.28,1.28,.14,1.27,-.41,1.19,-.22,1.16,-.02,1.23,.06,1.08,-.3,.97,-.13,.93,-.43,.91,-.19,.87,-.08,.82,.23,.84,-.24,.75,-.08,.69,.01,.63,-.06,.49,-.02,.37],
 [.01,.91,-.13,.54,.11,.6,-.02,.46,-.08,.43,-.19,.34,.26,.2],
 [-.1,1.06,0,1.06,0,.43,.26,.41]];
const SLC7A5_ZEROS = [[-.42,-.37,-.32,-.27,-.22,-.17,-.12,-.07,-.02,.03,.08,.13,.18,.23,.28,.33,.38],[-.42,-.36,-.3,-.24,-.18,-.12,-.06,0,.06,.12,.18,.24,.3,.36,.42],[-.3,-.2,-.1,0,.1,.2,.3],[-.42,-.36,-.3,-.24,-.18,-.12,-.06,0,.06,.12,.18,.24,.3,.36,.42],[-.3,-.22,-.15,-.05,.18]];

/* ---------- layout (panel geometry, in page pixels) ---------- */
const VIOLINS = [
  { gene:"ITGB1", p:"p = 6.32E-10", ax:465, right:622, top:387, base:513, zero:507.7, unit:36, x0:483, step:30, ticks:[0,1,2,3], xl:false, tx:467, ty:370, py:383, profile:ITGB1_PROFILE, dots:ITGB1_DOTS, zeros:ITGB1_ZEROS },
  { gene:"CAV1", p:"p = 4.90E-6", ax:661, right:817, top:387, base:513, zero:507.7, unit:31.4, x0:678, step:30, ticks:[0,1,2,3], xl:false, tx:664, ty:370, py:383, profile:CAV1_PROFILE, dots:CAV1_DOTS, zeros:CAV1_ZEROS },
  { gene:"KRT17", p:"p = 6.63E-10", ax:856, right:1012, top:387, base:513, zero:507.7, unit:28.35, x0:874, step:30, ticks:[0,1,2,3,4], xl:false, tx:859, ty:372, py:385, profile:KRT17_PROFILE, dots:KRT17_DOTS, zeros:KRT17_ZEROS },
  { gene:"TAGLN", p:"p = 3.97E-27", ax:465, right:622, top:547, base:672, zero:667, unit:27, x0:483, step:30, ticks:[0,1,2,3,4], xl:false, tx:468, ty:530, py:543, profile:TAGLN_PROFILE, dots:TAGLN_DOTS, zeros:TAGLN_ZEROS },
  { gene:"TNFRSF12A", p:"p = 1.65E-17", ax:661, right:817, top:547, base:672, zero:667, unit:35.2, x0:678, step:30, ticks:[0,1,2,3], xl:false, tx:664, ty:530, py:543, profile:TNF_PROFILE, dots:TNF_DOTS, zeros:TNF_ZEROS },
  { gene:"TPM4", p:"p = 1.10E-15", ax:856, right:1012, top:547, base:672.7, zero:667, unit:36.7, x0:874, step:30, ticks:[0,1,2,3], xl:true, tx:859, ty:530, py:543, profile:TPM4_PROFILE, dots:TPM4_DOTS, zeros:TPM4_ZEROS },
  { gene:"WDR1", p:"p = 3.27E-7", ax:465, right:616, top:707, base:832, zero:826.7, unit:51.7, x0:482.7, step:29, ticks:[0,1,2], xl:true, tx:468, ty:691, py:705, profile:WDR1_PROFILE, dots:WDR1_DOTS, zeros:WDR1_ZEROS },
  { gene:"SLC7A5", p:"p = 2.24E-16", ax:661, right:816, top:707, base:832, zero:826.7, unit:44.7, x0:679, step:29.6, ticks:[0,1,2], xl:true, tx:663, ty:691, py:705, profile:SLC7A5_PROFILE, dots:SLC7A5_DOTS, zeros:SLC7A5_ZEROS },
];

/* ---------- helpers ---------- */
const pts = (flat: number[]) => {
  const out: { x: number; y: number }[] = [];
  for (let i = 0; i < flat.length; i += 2) out.push({ x: flat[i], y: flat[i + 1] });
  return out;
};

const expressionColor = (v: number) => {
  const t = Math.min(1, Math.abs(v) / 2.5);
  const c = Math.round(255 * t);
  return v < 0 ? `rgb(${c},0,${c})` : `rgb(${c},${c},0)`;
};

const baseOptions = (extra: any) => ({
  responsive: false,
  animation: false,
  devicePixelRatio: 1,
  events: [],
  plugins: { legend: { display: false }, tooltip: { enabled: false } },
  ...extra,
});

const umapScale = (min: number, max: number, size: { w?: number; h?: number }) => ({
  type: "linear",
  min,
  max,
  ticks: { display: false },
  grid: { display: false },
  border: { display: true, color: AXIS, width: 1.5 },
  afterFit: (s: any) => {
    if (size.w !== undefined) s.width = size.w;
    if (size.h !== undefined) s.height = size.h;
  },
});

const dotSet = (flat: number[], color: string, radius: number) => ({
  data: pts(flat),
  backgroundColor: color,
  pointBackgroundColor: color,
  pointBorderWidth: 0,
  pointRadius: radius,
  showLine: false,
  clip: false,
});

const lineSet = (flat: number[], color: string, width: number, tension: number) => ({
  data: pts(flat),
  borderColor: color,
  borderWidth: width,
  pointRadius: 0,
  showLine: true,
  fill: false,
  tension,
  clip: false,
});

/* ---------- chart configs ---------- */
const C = A_CLUSTER_COLORS;
const panelAConfig = () => ({
  type: "scatter",
  data: {
    datasets: [
      lineSet(A_RING_IMMUNE, "#2A2A8F", 1.4, 0.4),
      lineSet(A_RING_KERAT, "#5B2C9E", 1.4, 0.4),
      lineSet(A_RING_MESEN, "#E8142B", 1.4, 0.4),
      lineSet(A_RING_MUCOSA, "#1FA84F", 1.4, 0.4),
      lineSet(A_RING_SMOOTH, "#EE8A1E", 1.4, 0.4),
      dotSet(A_C130, C[13], 1.2),
      dotSet(A_C131, C[14], 1.2),
      dotSet(A_C17, C[18], 1.2),
      dotSet(A_C16, C[17], 1.2),
      dotSet(A_C15, C[16], 1.5),
      dotSet(A_C14, C[15], 2.4),
      dotSet(A_C12, C[12], 3.2),
      dotSet(A_C11, C[11], 1.8),
      dotSet(A_C10, C[10], 1.8),
      dotSet(A_C9F, C[9], 1.1),
      dotSet(A_C9, C[9], 3.2),
      dotSet(A_C8, C[8], 4.4),
      dotSet(A_C7F, C[7], 1.2),
      dotSet(A_C7, C[7], 3),
      dotSet(A_C6, C[6], 4.5),
      dotSet(A_C5F, C[5], 1.2),
      dotSet(A_C5, C[5], 3.9),
      dotSet(A_C4F, C[4], 1.1),
      dotSet(A_C4, C[4], 4.2),
      dotSet(A_C3F, C[3], 1.1),
      dotSet(A_C3, C[3], 4.5),
      dotSet(A_C2F, C[2], 1.1),
      dotSet(A_C2, C[2], 4.3),
      dotSet(A_C0, C[0], 4.5),
      dotSet(A_C1, C[1], 4.5),
    ],
  },
  options: baseOptions({
    layout: { padding: { top: 5, right: 6 } },
    scales: { x: umapScale(99, 987, { h: 6 }), y: umapScale(0, 852, { w: 33 }) },
  }),
});

const panelBConfig = () => ({
  type: "scatter",
  data: {
    datasets: [
      lineSet(DENDRO_LEFT, AXIS, 1.4, 0),
      lineSet(DENDRO_MID, AXIS, 1.4, 0),
      lineSet(DENDRO_JOIN, AXIS, 1.4, 0),
      lineSet(DENDRO_ROOT, AXIS, 1.4, 0),
      { ...dotSet(DENDRO_LEAVES, DENDRO_LEAF_COLORS[0], 3.8), pointBackgroundColor: DENDRO_LEAF_COLORS },
      dotSet(B_C4, B_COLORS[4], 2),
      dotSet(B_C3, B_COLORS[3], 2),
      dotSet(B_C2, B_COLORS[2], 2),
      dotSet(B_C1, B_COLORS[1], 2),
      dotSet(B_C0, B_COLORS[0], 2),
    ],
  },
  options: baseOptions({
    layout: { padding: { top: 5, right: 6 } },
    scales: { x: umapScale(57, 945, { h: 7 }), y: umapScale(0, 850, { w: 4 }) },
  }),
});

const heatConfig = () => {
  const labels: string[] = [];
  const colors: string[][] = GENES.map(() => []);
  CLUSTER_NAMES.forEach((name, ci) => {
    TOP2A[ci].forEach((_, k) => {
      labels.push(name + ":" + k);
      HEAT_ROWS.forEach((row, g) => colors[g].push(expressionColor(row[ci][k] ?? -0.3)));
    });
    if (ci < CLUSTER_NAMES.length - 1) {
      labels.push("gap" + ci);
      HEAT_ROWS.forEach((_, g) => colors[g].push("rgba(255,255,255,0)"));
    }
  });
  return {
    type: "bar",
    data: {
      labels,
      datasets: GENES.map((gene, g) => ({ gene, g })).reverse().map(({ gene, g }) => ({
        label: gene,
        data: labels.map(() => 1),
        backgroundColor: colors[g],
        borderWidth: 0,
        inflateAmount: 0,
        barPercentage: 1,
        categoryPercentage: 1,
      })),
    },
    options: baseOptions({
      layout: { padding: 0 },
      scales: {
        x: { display: false, stacked: true },
        y: { display: false, stacked: true, min: 0, max: GENES.length },
      },
    }),
  };
};

const colorbarConfig = () => ({
  type: "bar",
  data: {
    labels: COLORBAR_STOPS.map(String),
    datasets: [{
      data: COLORBAR_STOPS.map(() => 1),
      backgroundColor: COLORBAR_STOPS.map(expressionColor),
      borderWidth: 0,
      inflateAmount: 0.4,
      barPercentage: 1,
      categoryPercentage: 1,
    }],
  },
  options: baseOptions({
    layout: { padding: 0 },
    scales: {
      x: {
        grid: { display: false, drawTicks: false },
        border: { display: false },
        afterFit: (s: any) => { s.height = 15; },
        ticks: {
          autoSkip: false,
          maxRotation: 0,
          padding: 0,
          color: "#000",
          font: { family: SERIF, size: 14 },
          callback: (_: any, i: number) => (COLORBAR_TICKS.includes(COLORBAR_STOPS[i]) ? String(COLORBAR_STOPS[i]) : ""),
        },
      },
      y: { display: false, min: 0, max: 1 },
    },
  }),
});

const violinFill = {
  id: "violinFill",
  beforeDatasetDraw(chart: any, args: any) {
    const ds = chart.data.datasets[args.index];
    if (!ds.violin) return;
    const line = args.meta.dataset;
    line.updateControlPoints(chart.chartArea, "x");
    const ctx = chart.ctx;
    ctx.save();
    ctx.beginPath();
    line.path(ctx);
    ctx.closePath();
    ctx.fillStyle = ds.backgroundColor;
    ctx.fill();
    ctx.restore();
  },
};

const LEFT_GUTTER = 22;
const BOTTOM_GUTTER = 22;
const TOP_GUTTER = 3;
const RIGHT_GUTTER = 3;
const THIN_VIOLIN = "#9a9a9a";

const violinConfig = (v: any) => {
  const halfWidth = 0.45;
  const datasets: any[] = [];
  v.dots.forEach((flat: number[], i: number) => {
    const jitter = pts(flat).map((p) => ({ x: i + p.x, y: p.y }));
    const zeros = v.zeros[i].map((dx: number) => ({ x: i + dx, y: 0 }));
    datasets.push({
      data: jitter.concat(zeros),
      pointBackgroundColor: "#000",
      pointBorderWidth: 0,
      pointRadius: 1.15,
      showLine: false,
      order: 0,
      clip: false,
    });
  });
  v.profile.forEach((flat: number[], i: number) => {
    const prof = pts(flat);
    const right = prof.map((p) => ({ x: i + p.y * halfWidth, y: p.x }));
    const left = prof.slice().reverse().map((p) => ({ x: i - p.y * halfWidth, y: p.x }));
    const thin = prof.slice(1).every((p) => p.y < 0.05);
    datasets.push({
      violin: true,
      data: right.concat(left, [right[0]]),
      backgroundColor: thin ? THIN_VIOLIN : VIOLIN_COLORS[i],
      borderColor: thin ? THIN_VIOLIN : "#7a7a7a",
      borderWidth: 0.8,
      pointRadius: 0,
      showLine: true,
      fill: false,
      tension: thin ? 0 : 0.25,
      order: 1,
      clip: false,
    });
  });
  return {
    type: "scatter",
    data: { datasets },
    plugins: [violinFill],
    options: baseOptions({
      layout: { padding: { top: TOP_GUTTER, right: RIGHT_GUTTER } },
      scales: {
        x: {
          type: "linear",
          min: -(v.x0 - v.ax) / v.step,
          max: (v.right - v.x0) / v.step,
          afterBuildTicks: (s: any) => { s.ticks = X_TICKS.map((value) => ({ value })); },
          afterFit: (s: any) => { s.height = BOTTOM_GUTTER; },
          grid: { display: true, drawOnChartArea: false, drawTicks: true, tickLength: 2, tickColor: AXIS, tickWidth: 1 },
          border: { display: true, color: AXIS, width: 1.5 },
          ticks: { display: v.xl, color: "#000", padding: 1, maxRotation: 0, font: { family: SERIF, size: 15 }, callback: (val: any) => String(val) },
        },
        y: {
          type: "linear",
          min: -(v.base - v.zero) / v.unit,
          max: (v.zero - v.top) / v.unit,
          afterBuildTicks: (s: any) => { s.ticks = v.ticks.map((value: number) => ({ value })); },
          afterFit: (s: any) => { s.width = LEFT_GUTTER; },
          grid: { display: true, drawOnChartArea: false, drawTicks: true, tickLength: 2, tickColor: AXIS, tickWidth: 1 },
          border: { display: true, color: AXIS, width: 1.5 },
          ticks: { color: "#000", padding: 2, font: { family: SERIF, size: 15 }, callback: (val: any) => String(val) },
        },
      },
    }),
  };
};

/* ---------- React bits ---------- */
function ChartCanvas({ x, y, w, h, make }: any) {
  const ref = useRef<HTMLCanvasElement | null>(null);
  useEffect(() => {
    const chart = new Chart(ref.current as any, make());
    return () => chart.destroy();
  }, []);
  return <canvas ref={ref} width={w} height={h} style={{ position: "absolute", left: x, top: y, width: w, height: h }} />;
}

function T({ x, y, size = 14, color = "#000", bold, italic, align = "center", rotate, children }: any) {
  const tx = align === "center" ? "-50%" : align === "right" ? "-100%" : "0";
  return (
    <div style={{
      position: "absolute", left: x, top: y, whiteSpace: "nowrap", lineHeight: 1, fontFamily: SERIF, fontSize: size, color,
      fontWeight: bold ? 700 : 400, fontStyle: italic ? "italic" : "normal",
      transform: `translate(${tx},-50%)${rotate ? ` rotate(${rotate}deg)` : ""}`,
    }}>{children}</div>
  );
}

const A_POINT_LABELS: [string, number, number][] = [["13.0",106,42],["13.1",117,53],["6",155,54],["3",169,52],["17",314,91],["15",136,127],["2",138,155],["14",275,166],["0",274,184],["1",296,180],["4",249,199],["5",303,199],["9",217,207],["12",68,206],["8",107,214],["7",52,232],["11",157,262],["10",159,292],["16",173,292]];
const A_LEG_X = [232,252,273,307];
const A_LEG_Y = [248,261,273.5,287,299];
const B_POINT_LABELS: [string, number, number][] = [["3",435,70],["2",660,107],["0",598,183],["4",417,173],["1",465,268]];
const HEAT_ROW_Y = [13,41,68,95,122,149,177,204,231];
const HEAT_CLUSTER_X = [799,877.7,924,965,990.7];
const DENDRO_X = [641.7,654,666,678.3,690.7];
const LEGEND_Y = [383,402,421,439,457];
const TABLE = { left: 77.7, right: 404.7, top: 374, header: 393.3, bottom: 825, split: 344.3 };

function TableD() {
  const rowH = (TABLE.bottom - TABLE.header) / GENE_SETS.length;
  const w = TABLE.right - TABLE.left;
  const sp = TABLE.split - TABLE.left;
  return (
    <div style={{ position: "absolute", left: TABLE.left, top: TABLE.top, width: w, height: TABLE.bottom - TABLE.top, boxSizing: "border-box", border: "1px solid #444", fontFamily: SERIF, color: "#000", background: "#fff" }}>
      <div style={{ position: "absolute", left: 0, top: 0, width: sp, height: TABLE.header - TABLE.top, lineHeight: `${TABLE.header - TABLE.top}px`, textAlign: "center", fontWeight: 700, fontSize: 15 }}>Gene Set</div>
      <div style={{ position: "absolute", left: sp, top: 0, width: w - sp, height: TABLE.header - TABLE.top, lineHeight: `${TABLE.header - TABLE.top}px`, textAlign: "center", fontWeight: 700, fontSize: 14.5 }}>p-value</div>
      {GENE_SETS.map((name, i) => {
        const top = TABLE.header - TABLE.top + i * rowH - 1;
        return (
          <React.Fragment key={name}>
            <div style={{ position: "absolute", left: 0, top, width: sp - 1, height: rowH, boxSizing: "border-box", borderTop: "1px solid #c4c4c4", background: (GROUP_FILL as any)[SET_GROUP[i]], textAlign: "center", fontSize: 12.7, lineHeight: `${rowH - 1}px`, whiteSpace: "nowrap" }}>{name}</div>
            <div style={{ position: "absolute", left: sp - 1, top, width: w - sp - 1, height: rowH, boxSizing: "border-box", borderTop: "1px solid #c4c4c4", borderLeft: "1px solid #c4c4c4", textAlign: "center", fontSize: 12.8, lineHeight: `${rowH - 1}px` }}>{P_VALUES[i]}</div>
          </React.Fragment>
        );
      })}
    </div>
  );
}

const Swatch = ({ x, y, w, h, fill, border = "#444", bw = 1 }: any) => (
  <div style={{ position: "absolute", left: x, top: y, width: w, height: h, boxSizing: "border-box", background: fill, border: `${bw}px solid ${border}` }} />
);

export default function App() {
  return (
    <div style={{ position: "absolute", left: 0, top: 0, width: 1050, height: 870, overflow: "hidden", background: "#fff" }}>
      {/* Panel A */}
      <T x={9} y={11} size={22} align="center">A</T>
      <T x={32} y={8} size={19.7} align="left"><b>Human TM</b> (3,865 cells)</T>
      <ChartCanvas x={0} y={20} w={335} h={295} make={panelAConfig} />
      <T x={191} y={321} size={13.7} bold>UMAP_1</T>
      <T x={17} y={160} size={13.7} bold rotate={-90}>UMAP_2</T>
      {A_POINT_LABELS.map(([s, x, y]) => <T key={s} x={x} y={y} size={13}>{s}</T>)}
      <T x={209} y={28} size={18} color="#2A2A8F">Immune</T>
      <T x={209} y={42} size={18} color="#2A2A8F">cells</T>
      <T x={140} y={87} size={18} color="#5B2C9E">Keratinocytes</T>
      <T x={140} y={100} size={15.5}>(<i>KRT14</i>+)</T>
      <T x={285} y={123} size={18} color="#E8142B">Mesenchyme</T>
      <T x={285} y={136} size={15.5}>(<i>FBLN1</i>+)</T>
      <T x={63} y={169} size={18} color="#1FA84F">Mucosa</T>
      <T x={63} y={182} size={15.5}>(<i>SOX2</i>+)</T>
      <T x={108} y={231} size={18} color="#EE8A1E">Smooth</T>
      <T x={108} y={245} size={18} color="#EE8A1E">muscle</T>
      <T x={108} y={259} size={15.5}>(<i>MYH11</i>+)</T>
      {A_LEGEND_LABELS.map((s, i) => {
        const col = Math.min(3, Math.floor(i / 5));
        const row = i < 15 ? i % 5 : i - 15;
        return (
          <React.Fragment key={s}>
            <div style={{ position: "absolute", left: A_LEG_X[col] - 4.5, top: A_LEG_Y[row] - 4.5, width: 9, height: 9, borderRadius: "50%", background: C[i] }} />
            <T x={A_LEG_X[col] + 5.5} y={A_LEG_Y[row]} size={13} align="left">{s}</T>
          </React.Fragment>
        );
      })}

      {/* Panel B */}
      <T x={373} y={9} size={22}>B</T>
      <T x={400} y={8} size={19.6} align="left"><b>Human TM keratinocytes</b> (401 cells)</T>
      <ChartCanvas x={395} y={20} w={306} h={295} make={panelBConfig} />
      <T x={560} y={321} size={13.7} bold>UMAP_1</T>
      <T x={387} y={158} size={13.7} bold rotate={-90}>UMAP_2</T>
      {B_POINT_LABELS.map(([s, x, y]) => <T key={s} x={x} y={y} size={17}>{s}</T>)}
      <T x={573} y={40} size={13.5} bold align="right">Differentiated</T>
      <T x={573} y={52} size={13.5} bold align="right">keratinocytes</T>
      <T x={571} y={63} size={13.5} align="right">Cluster 3</T>
      <T x={402} y={189} size={13.5} bold align="left">Proliferating</T>
      <T x={402} y={201} size={13.5} bold align="left">keratinocytes</T>
      <T x={402} y={212} size={13.5} align="left">Cluster 4</T>
      <T x={528} y={247} size={13.5} bold align="left">Undifferentiated</T>
      <T x={528} y={259} size={13.5} bold align="left">keratinocytes</T>
      <T x={528} y={271} size={13.5} align="left">Clusters 0, 1, 2</T>
      {DENDRO_LEAF_LABELS.map((s, i) => <T key={s} x={DENDRO_X[i]} y={302} size={14}>{s}</T>)}
      <svg width={1050} height={330} style={{ position: "absolute", left: 0, top: 0, pointerEvents: "none" }}>
        <line x1={148} y1={113} x2={399} y2={25} stroke="#5B4AA0" strokeWidth={1} />
        <line x1={150} y1={168} x2={399} y2={307} stroke="#5B4AA0" strokeWidth={1} />
      </svg>

      {/* Panel C */}
      <T x={730} y={9} size={22}>C</T>
      <ChartCanvas x={747} y={0} w={248} h={243} make={heatConfig} />
      {GENES.map((g, i) => <T key={g} x={998} y={HEAT_ROW_Y[i]} size={17} italic align="left">{g}</T>)}
      {CLUSTER_NAMES.map((s, i) => <T key={s} x={HEAT_CLUSTER_X[i]} y={253} size={15}>{s}</T>)}
      <T x={783} y={268} size={14}>Expression</T>
      <ChartCanvas x={747} y={277} w={73} h={30} make={colorbarConfig} />
      <Swatch x={747} y={277} w={73} h={15} fill="transparent" border="#777" />
      <T x={873} y={275} size={14} align="left">0, 1, 2: Undifferentiated</T>
      <T x={873} y={291} size={14} align="left">3: Differentiated</T>
      <T x={873} y={306} size={14} align="left">4: Proliferating</T>

      {/* Panel D */}
      <T x={63} y={383} size={22}>D</T>
      <TableD />
      <Swatch x={81} y={833} w={16} h={16} fill={GROUP_FILL.m} />
      <T x={99} y={840} size={18} align="left">Migration/EMT</T>
      <Swatch x={222} y={833} w={16} h={16} fill={GROUP_FILL.c} />
      <T x={241} y={840} size={18} align="left">Cytoskeleton</T>
      <Swatch x={344} y={833} w={16} h={16} fill={GROUP_FILL.e} />
      <T x={363} y={840} size={18} align="left">ECM</T>

      {/* Panel E */}
      <T x={437} y={383} size={22}>E</T>
      {VIOLINS.map((v) => {
        const w = v.right - v.ax + LEFT_GUTTER + RIGHT_GUTTER;
        const h = Math.round(v.base - v.top) + TOP_GUTTER + BOTTOM_GUTTER;
        return (
          <React.Fragment key={v.gene}>
            <ChartCanvas x={v.ax - LEFT_GUTTER} y={v.top - TOP_GUTTER} w={w} h={h} make={() => violinConfig(v)} />
            <T x={v.tx} y={v.ty} size={18} italic align="left">{v.gene}</T>
            <T x={v.tx} y={v.py} size={14} align="left">{v.p}</T>
          </React.Fragment>
        );
      })}
      <T x={437} y={612} size={17.5} bold rotate={-90}>Expression level</T>
      <T x={738} y={861} size={15.7} bold>Keratinocyte cluster</T>
      {LEGEND_SWATCHES.map((c, i) => (
        <React.Fragment key={c}>
          <Swatch x={1026} y={LEGEND_Y[i] - 6} w={11} h={12} fill={c} border="#333" bw={1.5} />
          <T x={1040} y={LEGEND_Y[i]} size={16} align="left">{CLUSTER_NAMES[i]}</T>
        </React.Fragment>
      ))}
    </div>
  );
}
